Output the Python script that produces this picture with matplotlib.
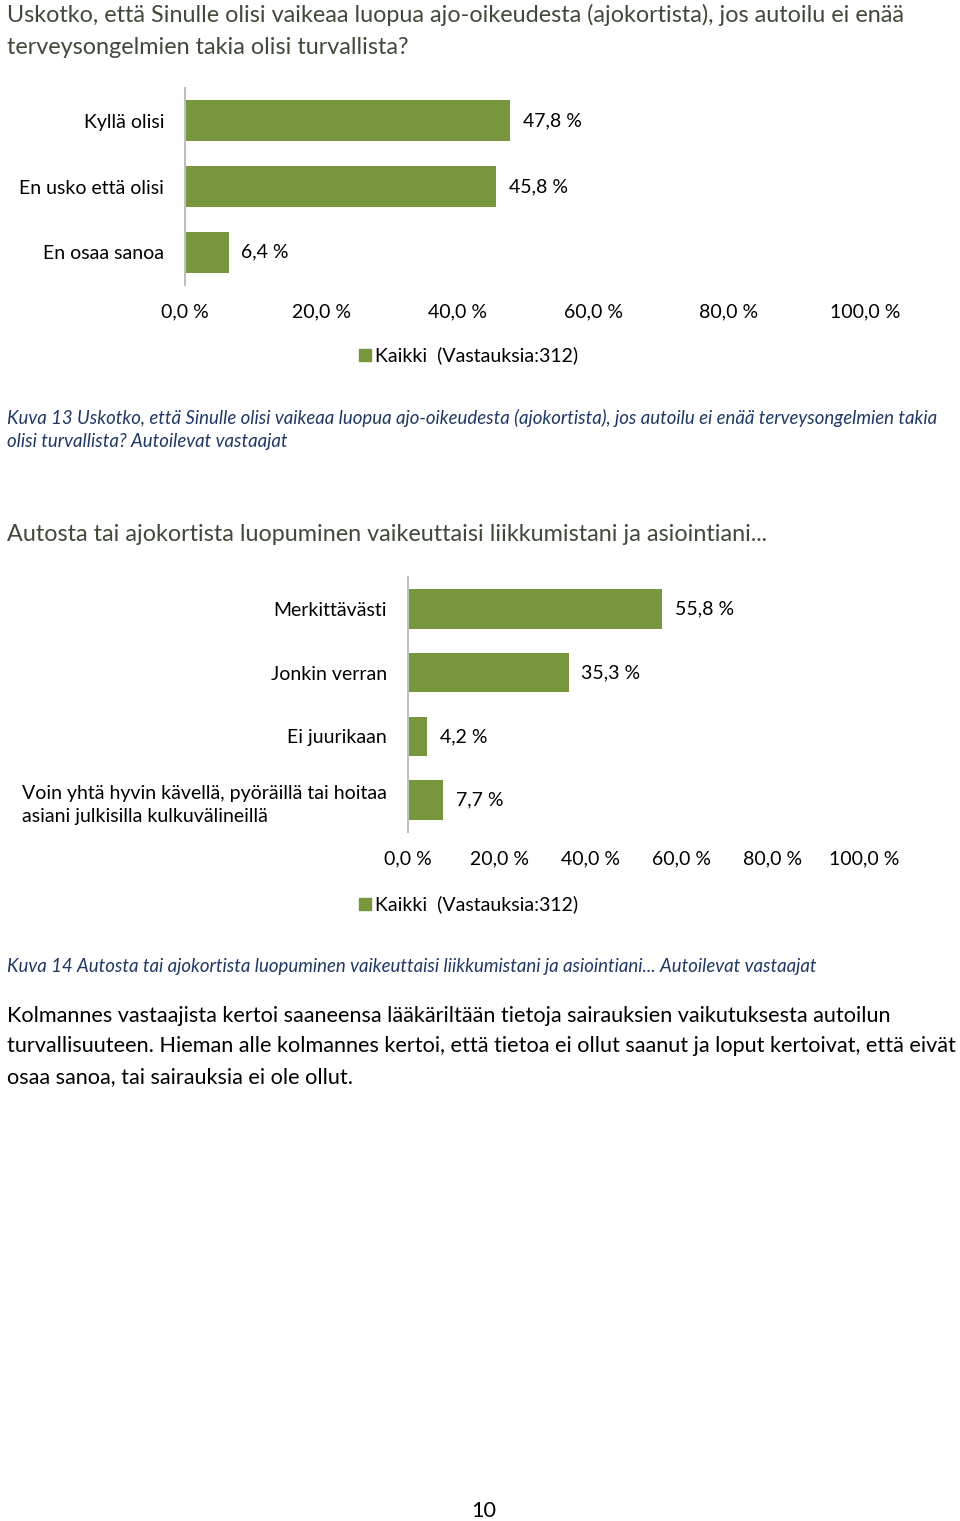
import matplotlib.pyplot as plt
from matplotlib.patches import Rectangle

plt.rcParams['font.family'] = ['Lato', 'DejaVu Sans']

# data
q1_title = ['Uskotko, että Sinulle olisi vaikeaa luopua ajo-oikeudesta (ajokortista), jos autoilu ei enää',
            'terveysongelmien takia olisi turvallista?']
q1_labels = ['Kyllä olisi', 'En usko että olisi', 'En osaa sanoa']
q1_values = [47.8, 45.8, 6.4]
q1_caption = ['Kuva 13 Uskotko, että Sinulle olisi vaikeaa luopua ajo-oikeudesta (ajokortista), jos autoilu ei enää terveysongelmien takia',
              'olisi turvallista? Autoilevat vastaajat']

q2_title = 'Autosta tai ajokortista luopuminen vaikeuttaisi liikkumistani ja asiointiani...'
q2_labels = ['Merkittävästi', 'Jonkin verran', 'Ei juurikaan',
             'Voin yhtä hyvin kävellä, pyöräillä tai hoitaa\nasiani julkisilla kulkuvälineillä']
q2_values = [55.8, 35.3, 4.2, 7.7]
q2_caption = 'Kuva 14 Autosta tai ajokortista luopuminen vaikeuttaisi liikkumistani ja asiointiani... Autoilevat vastaajat'

series_name = 'Kaikki  (Vastauksia:312)'
x_ticks = [0, 20, 40, 60, 80, 100]
x_ticklabels = ['0,0 %', '20,0 %', '40,0 %', '60,0 %', '80,0 %', '100,0 %']

body = ['Kolmannes vastaajista kertoi saaneensa lääkäriltään tietoja sairauksien vaikutuksesta autoilun',
        'turvallisuuteen. Hieman alle kolmannes kertoi, että tietoa ei ollut saanut ja loput kertoivat, että eivät',
        'osaa sanoa, tai sairauksia ei ole ollut.']
page_no = '10'

W, H = 960, 1521
BAR = '#78973D'
TITLE_C = '#404A38'
CAP_C = '#1F3864'
FS = 14

fig = plt.figure(figsize=(W / 100, H / 100), dpi=100)


def fx(px):
    return px / W


def fy(py):
    return 1 - py / H


def bar_chart(labels, values, left, right, top, bottom):
    ax = fig.add_axes([fx(left), fy(bottom), fx(right - left), (bottom - top) / H])
    pos = list(range(len(values)))
    ax.barh(pos, values, height=0.62, color=BAR, edgecolor='none')
    for p, v in zip(pos, values):
        ax.annotate(('%.1f %%' % v).replace('.', ','), (v, p), xytext=(9, 0),
                    textcoords='offset points', va='center', ha='left', fontsize=FS, color='black')
    ax.set_xlim(0, 100)
    ax.set_ylim(len(values) - 0.5, -0.5)
    ax.set_yticks(pos)
    ax.set_yticklabels(labels, fontsize=FS)
    for t in ax.get_yticklabels():
        t.set_multialignment('left')
        t.set_linespacing(1.45)
    ax.set_xticks(x_ticks)
    ax.set_xticklabels(x_ticklabels, fontsize=FS)
    ax.tick_params(axis='y', length=0, pad=15)
    ax.tick_params(axis='x', length=0, pad=13.5)
    for s in ['top', 'right', 'bottom']:
        ax.spines[s].set_visible(False)
    ax.spines['left'].set_color('#BFBFBF')
    ax.spines['left'].set_linewidth(1.5)
    return ax


def legend(py):
    fig.patches.append(Rectangle((fx(359), fy(py + 6)), fx(12), 12 / H, transform=fig.transFigure,
                                 color=BAR, figure=fig))
    fig.text(fx(375), fy(py), series_name, fontsize=FS, va='center', ha='left')


# chart 1
fig.text(fx(7), fy(15), q1_title[0], fontsize=16.8, color=TITLE_C, va='center')
fig.text(fx(7), fy(47), q1_title[1], fontsize=16.8, color=TITLE_C, va='center')
bar_chart(q1_labels, q1_values, 185, 865, 88, 285)
legend(355)
fig.text(fx(7), fy(418), q1_caption[0], fontsize=13.4, color=CAP_C, style='italic', va='center')
fig.text(fx(7), fy(441), q1_caption[1], fontsize=13.4, color=CAP_C, style='italic', va='center')

# chart 2
fig.text(fx(7), fy(535), q2_title, fontsize=16.8, color=TITLE_C, va='center')
bar_chart(q2_labels, q2_values, 408, 864, 577, 832)
legend(904)
fig.text(fx(7), fy(967), q2_caption, fontsize=13.4, color=CAP_C, style='italic', va='center')

for i, line in enumerate(body):
    fig.text(fx(7), fy(1016 + i * 30.5), line, fontsize=15.6, color='black', va='center')

fig.text(fx(484), fy(1511), page_no, fontsize=15.6, ha='center', va='center')

fig.savefig('out.png', dpi=100)
